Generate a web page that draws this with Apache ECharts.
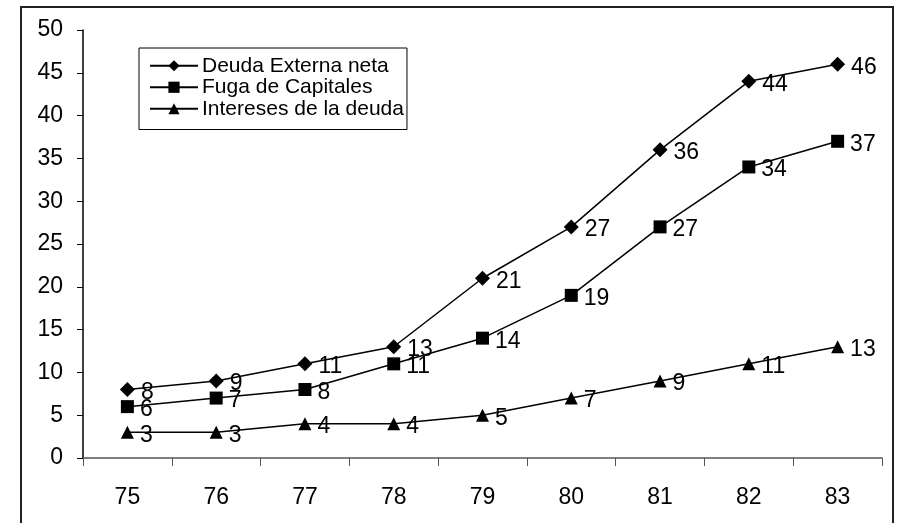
<!DOCTYPE html>
<html><head><meta charset="utf-8">
<script src="https://cdn.jsdelivr.net/npm/echarts@6/dist/echarts.min.js"></script>
<style>html,body{margin:0;padding:0;background:#fff}#c{width:899px;height:523px}
#frame{position:absolute;left:20px;top:6px;width:874px;height:530px;border:2px solid #222;box-sizing:border-box;pointer-events:none}</style>
</head><body>
<div id="c"></div><div id="frame"></div>
<script>
const categories = ['75','76','77','78','79','80','81','82','83'];
const deuda = [8, 9, 11, 13, 21, 27, 36, 44, 46];
const fuga = [6, 7, 8, 11, 14, 19, 27, 34, 37];
const intereses = [3, 3, 4, 4, 5, 7, 9, 11, 13];
const names = ['Deuda Externa neta', 'Fuga de Capitales', 'Intereses de la deuda'];
const font = 'Liberation Sans, Arial, sans-serif';
function mk(name, data, symbol, size) {
  return {
    name, type: 'line', data, symbol, symbolSize: size,
    itemStyle: { color: '#000' },
    lineStyle: { color: '#000', width: 1.5 },
    label: { show: true, position: 'right', distance: 6, offset: [0, 3], color: '#000', fontSize: 23, fontFamily: font },
    z: 3
  };
}
const chart = echarts.init(document.getElementById('c'));
chart.setOption({
  animation: false,
  backgroundColor: '#fff',
  grid: { left: 83, right: 17, top: 30, bottom: 65 },
  legend: {
    orient: 'vertical', left: 139, top: 48, itemWidth: 48, itemHeight: 14, itemGap: 0,
    backgroundColor: '#fff', borderColor: '#000', borderWidth: 1, padding: [7, 3, 10, 10],
    textStyle: { fontSize: 21, lineHeight: 21.5, fontFamily: font, color: '#000', padding: [0, 0, 0, -1] },
    data: names
  },
  xAxis: {
    type: 'category', data: categories, boundaryGap: true,
    axisLine: { lineStyle: { color: '#555', width: 1.5 } },
    axisTick: { show: true, length: 8, inside: false, lineStyle: { color: '#555' } },
    axisLabel: { color: '#000', fontSize: 23, fontFamily: font, margin: 28 },
    splitLine: { show: false }
  },
  yAxis: {
    type: 'value', min: 0, max: 50, interval: 5,
    axisLine: { show: true, lineStyle: { color: '#000', width: 1.5 } },
    axisTick: { show: true, length: 6, lineStyle: { color: '#000' } },
    axisLabel: { color: '#000', fontSize: 23, fontFamily: font, margin: 20 },
    splitLine: { show: false }
  },
  series: [
    mk(names[0], deuda, 'diamond', 15),
    mk(names[1], fuga, 'rect', 13),
    mk(names[2], intereses, 'triangle', 13)
  ]
});
</script>
</body></html>
